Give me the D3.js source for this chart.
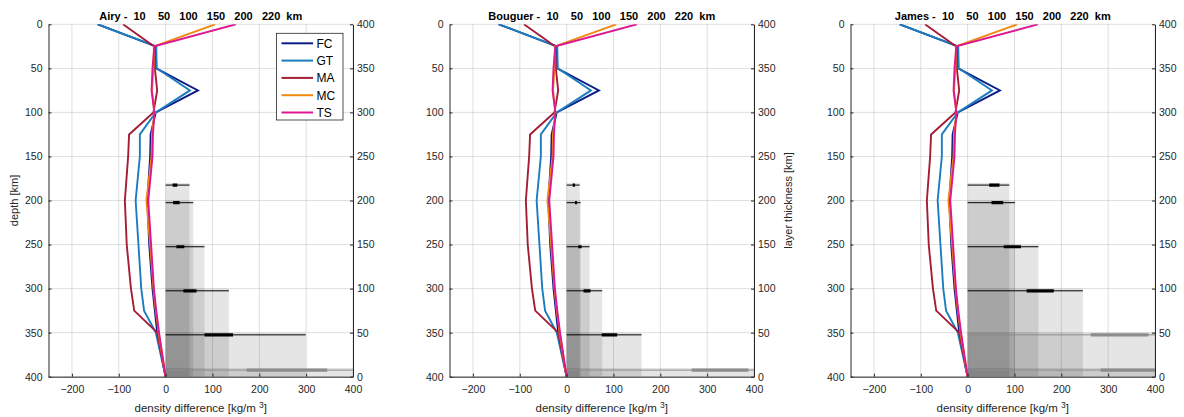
<!DOCTYPE html>
<html>
<head>
<meta charset="utf-8">
<script src="https://cdn.jsdelivr.net/npm/d3@7"></script>
<style>
  body { margin: 0; background: #fff; }
  svg { font-family: "Liberation Sans", Arial, sans-serif; }
</style>
</head>
<body>
<svg id="chart" width="1184" height="417"></svg>
<script>
// depth profiles (same in every panel)
const depths = [0, 25, 50, 75, 100, 125, 150, 200, 250, 300, 325, 350, 400];
const seriesNames = ['FC', 'GT', 'MA', 'MC', 'TS'];
const fcValues = [-145, -21, -20, 69, -21, -32, -33, -39, -35, -28, -23, -18, 0];
const gtValues = [-145, -20, -19, 52, -21, -55, -55, -64, -58, -52, -46, -21, 0];
const maValues = [-91, -25, -23, -18, -26, -78, -80, -87, -83, -74, -67, -18, 0];
const mcValues = [106, -25, -26, -29, -24, -29, -30, -41, -33, -26, -21, -15, 0];
const tsValues = [150, -24, -28, -30, -24, -27, -28, -37, -31, -25, -20, -14, 0];

// layer thickness bars, one set per model
const models = ['Airy', 'Bouguer', 'James'];
const thicknesses = [10, 50, 100, 150, 200, 220];
const airyMax = [450, 299, 135, 83, 59, 51];
const airyLow = [173, 83, 38, 23, 16, 15];
const airyHigh = [345, 144, 66, 40, 30, 25];
const bouguerMax = [450, 160, 76, 49, 30, 28];
const bouguerLow = [267, 75, 36, 25, 18, 13];
const bouguerHigh = [388, 108, 51, 32, 22, 18];
const jamesMax = [450, 450, 246, 151, 101, 89];
const jamesLow = [284, 263, 126, 77, 51, 46];
const jamesHigh = [450, 386, 184, 114, 76, 68];

const xTicks = [-200, -100, 0, 100, 200, 300, 400];
const yTicks = [0, 50, 100, 150, 200, 250, 300, 350, 400];

const seriesValues = [fcValues, gtValues, maValues, mcValues, tsValues];
const colors = ['#0c1d87', '#1b7dc0', '#a41c35', '#f08a12', '#de1690'];
const maxes = [airyMax, bouguerMax, jamesMax];
const lows = [airyLow, bouguerLow, jamesLow];
const highs = [airyHigh, bouguerHigh, jamesHigh];

const svg = d3.select('#chart');
const axisColor = '#262626';
const axTop = 24.3, axBottom = 376.7, axWidth = 304.5;
const lefts = [48.5, 449.5, 850.5];

models.forEach((model, p) => {
  const left = lefts[p];
  const x = d3.scaleLinear().domain([-250, 400]).range([left, left + axWidth]);
  const y = d3.scaleLinear().domain([0, 400]).range([axTop, axBottom]);
  const yRight = d3.scaleLinear().domain([400, 0]).range([axTop, axBottom]);
  const g = svg.append('g');

  const clipId = 'clip' + p;
  svg.append('clipPath').attr('id', clipId)
    .append('rect')
      .attr('x', left).attr('y', axTop)
      .attr('width', axWidth).attr('height', axBottom - axTop);

  // grid
  g.append('g').selectAll('line').data(xTicks).enter().append('line')
    .attr('x1', d => x(d)).attr('x2', d => x(d))
    .attr('y1', axTop).attr('y2', axBottom)
    .attr('stroke', axisColor).attr('stroke-opacity', 0.15);
  g.append('g').selectAll('line').data(yTicks).enter().append('line')
    .attr('x1', left).attr('x2', left + axWidth)
    .attr('y1', d => y(d)).attr('y2', d => y(d))
    .attr('stroke', axisColor).attr('stroke-opacity', 0.15);

  const plot = g.append('g').attr('clip-path', `url(#${clipId})`);

  // layer rectangles
  const layers = thicknesses.map((t, i) => ({
    t, max: maxes[p][i], low: lows[p][i], high: highs[p][i],
    clipped: maxes[p][i] > 400
  }));

  plot.append('g').selectAll('rect').data(layers).enter().append('rect')
    .attr('x', x(0))
    .attr('y', d => yRight(d.t))
    .attr('width', d => x(Math.min(d.max, 420)) - x(0))
    .attr('height', d => axBottom - yRight(d.t))
    .attr('fill', '#000').attr('fill-opacity', 0.1);

  const bars = plot.append('g').selectAll('g').data(layers).enter().append('g');
  bars.append('line')
    .attr('x1', x(0)).attr('x2', d => x(Math.min(d.max, 420)))
    .attr('y1', d => yRight(d.t - 2.5)).attr('y2', d => yRight(d.t - 2.5))
    .attr('stroke', d => d.clipped ? '#8c8c8c' : '#000')
    .attr('stroke-width', 1);
  bars.append('line')
    .attr('x1', d => x(d.low)).attr('x2', d => x(Math.min(d.high, 420)))
    .attr('y1', d => yRight(d.t - 2.5)).attr('y2', d => yRight(d.t - 2.5))
    .attr('stroke', d => d.clipped ? '#8c8c8c' : '#000')
    .attr('stroke-width', 3.2);

  // profiles
  const line = d3.line().x(d => x(d[0])).y(d => y(d[1]));
  plot.append('g').selectAll('path').data(seriesValues).enter().append('path')
    .attr('d', vals => line(vals.map((v, i) => [v, depths[i]])))
    .attr('fill', 'none')
    .attr('stroke', (d, i) => colors[i])
    .attr('stroke-width', 1.9)
    .attr('stroke-linejoin', 'miter');

  // axes
  const styleAxis = sel => {
    sel.selectAll('path.domain').attr('stroke', axisColor);
    sel.selectAll('.tick line').attr('stroke', axisColor);
    sel.selectAll('.tick text').attr('fill', axisColor)
      .attr('font-size', '10.5px');
    sel.attr('font-family', null);
  };
  g.append('g').attr('transform', `translate(${left},0)`)
    .call(d3.axisLeft(y).tickValues(yTicks).tickSizeInner(-3).tickSizeOuter(0).tickPadding(6))
    .call(styleAxis);
  g.append('g').attr('transform', `translate(${left + axWidth},0)`)
    .call(d3.axisRight(yRight).tickValues(yTicks).tickSizeInner(-3).tickSizeOuter(0).tickPadding(4))
    .call(styleAxis);
  g.append('g').attr('transform', `translate(0,${axBottom})`)
    .call(d3.axisBottom(x).tickValues(xTicks).tickSizeInner(-3).tickSizeOuter(0).tickPadding(9))
    .call(styleAxis);

  // title
  g.append('text')
    .attr('x', left + axWidth / 2).attr('y', 19.5)
    .attr('text-anchor', 'middle')
    .attr('font-size', '11px').attr('font-weight', 'bold')
    .attr('fill', '#000')
    .style('white-space', 'pre')
    .text(model + ' -  10    50   100   150   200   220  km');

  // x label
  const xl = g.append('text')
    .attr('x', left + axWidth / 2).attr('y', 412)
    .attr('text-anchor', 'middle')
    .attr('font-size', '11.5px').attr('fill', axisColor)
    .style('white-space', 'pre');
  xl.append('tspan').text('density difference [kg/m ');
  xl.append('tspan').attr('dy', -4.5).attr('font-size', '8.5px').text('3');
  xl.append('tspan').attr('dy', 4.5).text(']');

  if (p === 0) {
    g.append('text')
      .attr('transform', `translate(18,${(axTop + axBottom) / 2}) rotate(-90)`)
      .attr('text-anchor', 'middle')
      .attr('font-size', '11px').attr('fill', axisColor)
      .text('depth [km]');

    // legend
    const lg = g.append('g').attr('transform', `translate(${left + axWidth - 76.5},33.3)`);
    lg.append('rect').attr('width', 66.5).attr('height', 86.7)
      .attr('fill', '#fff').attr('stroke', axisColor).attr('stroke-width', 0.8);
    const items = lg.selectAll('g').data(seriesNames).enter().append('g')
      .attr('transform', (d, i) => `translate(0,${10 + i * 17.3})`);
    items.append('line').attr('x1', 5).attr('x2', 36.5)
      .attr('stroke', (d, i) => colors[i]).attr('stroke-width', 2);
    items.append('text').attr('x', 40).attr('dy', '0.36em')
      .attr('font-size', '12px').attr('fill', '#000').text(d => d);
  }
  if (p === 1) {
    g.append('text')
      .attr('transform', `translate(792,${(axTop + axBottom) / 2}) rotate(-90)`)
      .attr('text-anchor', 'middle')
      .attr('font-size', '11px').attr('fill', axisColor)
      .text('layer thickness [km]');
  }
});
</script>
</body>
</html>
